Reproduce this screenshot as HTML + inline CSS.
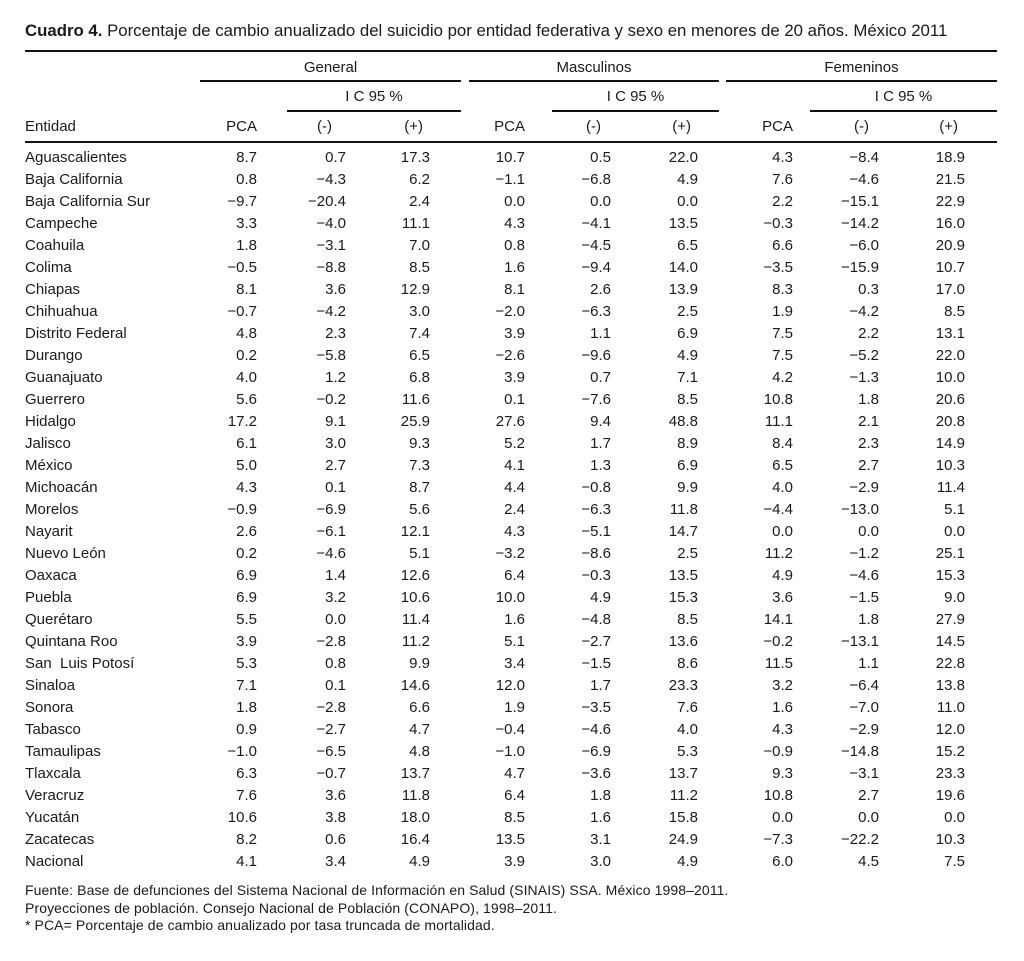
<!DOCTYPE html>
<html><head><meta charset="utf-8"><style>
body{margin:0;background:#fff;width:1024px;height:961px;position:relative;overflow:hidden;font-family:"Liberation Sans",sans-serif;color:#1a1a1a}
.t{position:absolute;left:25px;top:21px;font-size:16.8px;white-space:nowrap}
.ln{position:absolute;height:2px;background:#111}
.h{position:absolute;font-size:15px;white-space:nowrap;line-height:18px}
.r{position:absolute;left:0;width:1024px;height:22px;font-size:15px;line-height:18px}
.r span{position:absolute;white-space:nowrap}
.r span:first-child{left:25px}
.r span:nth-child(2){right:767px}
.r span:nth-child(3){right:678px}
.r span:nth-child(4){right:594px}
.r span:nth-child(5){right:499px}
.r span:nth-child(6){right:413px}
.r span:nth-child(7){right:326px}
.r span:nth-child(8){right:231px}
.r span:nth-child(9){right:145px}
.r span:nth-child(10){right:59px}
.f{position:absolute;left:25px;font-size:14px;white-space:nowrap;line-height:16px;letter-spacing:0.1px}
</style></head><body>
<div class="t"><b>Cuadro 4.</b> Porcentaje de cambio anualizado del suicidio por entidad federativa y sexo en menores de 20 años. México 2011</div>
<div class="ln" style="left:25px;width:972px;top:50px"></div>
<div class="h" style="left:200px;width:261px;text-align:center;top:59px">General</div>
<div class="h" style="left:469px;width:250px;text-align:center;top:59px">Masculinos</div>
<div class="h" style="left:726px;width:271px;text-align:center;top:59px">Femeninos</div>
<div class="ln" style="left:200px;width:261px;top:80px"></div>
<div class="ln" style="left:469px;width:250px;top:80px"></div>
<div class="ln" style="left:726px;width:271px;top:80px"></div>
<div class="h" style="left:287px;width:174px;text-align:center;top:88px">I C 95 %</div>
<div class="h" style="left:552px;width:167px;text-align:center;top:88px">I C 95 %</div>
<div class="h" style="left:810px;width:187px;text-align:center;top:88px">I C 95 %</div>
<div class="ln" style="left:287px;width:174px;top:110px"></div>
<div class="ln" style="left:552px;width:167px;top:110px"></div>
<div class="ln" style="left:810px;width:187px;top:110px"></div>
<div class="r" style="top:118px"><span>Entidad</span><span>PCA</span><span style="right:692px">(-)</span><span style="right:601px">(+)</span><span>PCA</span><span style="right:423px">(-)</span><span style="right:333px">(+)</span><span>PCA</span><span style="right:155px">(-)</span><span style="right:66px">(+)</span></div>
<div class="ln" style="left:25px;width:972px;top:141px"></div>

<div class="r" style="top:149px"><span>Aguascalientes</span><span>8.7</span><span>0.7</span><span>17.3</span><span>10.7</span><span>0.5</span><span>22.0</span><span>4.3</span><span>−8.4</span><span>18.9</span></div>
<div class="r" style="top:171px"><span>Baja California</span><span>0.8</span><span>−4.3</span><span>6.2</span><span>−1.1</span><span>−6.8</span><span>4.9</span><span>7.6</span><span>−4.6</span><span>21.5</span></div>
<div class="r" style="top:193px"><span>Baja California Sur</span><span>−9.7</span><span>−20.4</span><span>2.4</span><span>0.0</span><span>0.0</span><span>0.0</span><span>2.2</span><span>−15.1</span><span>22.9</span></div>
<div class="r" style="top:215px"><span>Campeche</span><span>3.3</span><span>−4.0</span><span>11.1</span><span>4.3</span><span>−4.1</span><span>13.5</span><span>−0.3</span><span>−14.2</span><span>16.0</span></div>
<div class="r" style="top:237px"><span>Coahuila</span><span>1.8</span><span>−3.1</span><span>7.0</span><span>0.8</span><span>−4.5</span><span>6.5</span><span>6.6</span><span>−6.0</span><span>20.9</span></div>
<div class="r" style="top:259px"><span>Colima</span><span>−0.5</span><span>−8.8</span><span>8.5</span><span>1.6</span><span>−9.4</span><span>14.0</span><span>−3.5</span><span>−15.9</span><span>10.7</span></div>
<div class="r" style="top:281px"><span>Chiapas</span><span>8.1</span><span>3.6</span><span>12.9</span><span>8.1</span><span>2.6</span><span>13.9</span><span>8.3</span><span>0.3</span><span>17.0</span></div>
<div class="r" style="top:303px"><span>Chihuahua</span><span>−0.7</span><span>−4.2</span><span>3.0</span><span>−2.0</span><span>−6.3</span><span>2.5</span><span>1.9</span><span>−4.2</span><span>8.5</span></div>
<div class="r" style="top:325px"><span>Distrito Federal</span><span>4.8</span><span>2.3</span><span>7.4</span><span>3.9</span><span>1.1</span><span>6.9</span><span>7.5</span><span>2.2</span><span>13.1</span></div>
<div class="r" style="top:347px"><span>Durango</span><span>0.2</span><span>−5.8</span><span>6.5</span><span>−2.6</span><span>−9.6</span><span>4.9</span><span>7.5</span><span>−5.2</span><span>22.0</span></div>
<div class="r" style="top:369px"><span>Guanajuato</span><span>4.0</span><span>1.2</span><span>6.8</span><span>3.9</span><span>0.7</span><span>7.1</span><span>4.2</span><span>−1.3</span><span>10.0</span></div>
<div class="r" style="top:391px"><span>Guerrero</span><span>5.6</span><span>−0.2</span><span>11.6</span><span>0.1</span><span>−7.6</span><span>8.5</span><span>10.8</span><span>1.8</span><span>20.6</span></div>
<div class="r" style="top:413px"><span>Hidalgo</span><span>17.2</span><span>9.1</span><span>25.9</span><span>27.6</span><span>9.4</span><span>48.8</span><span>11.1</span><span>2.1</span><span>20.8</span></div>
<div class="r" style="top:435px"><span>Jalisco</span><span>6.1</span><span>3.0</span><span>9.3</span><span>5.2</span><span>1.7</span><span>8.9</span><span>8.4</span><span>2.3</span><span>14.9</span></div>
<div class="r" style="top:457px"><span>México</span><span>5.0</span><span>2.7</span><span>7.3</span><span>4.1</span><span>1.3</span><span>6.9</span><span>6.5</span><span>2.7</span><span>10.3</span></div>
<div class="r" style="top:479px"><span>Michoacán</span><span>4.3</span><span>0.1</span><span>8.7</span><span>4.4</span><span>−0.8</span><span>9.9</span><span>4.0</span><span>−2.9</span><span>11.4</span></div>
<div class="r" style="top:501px"><span>Morelos</span><span>−0.9</span><span>−6.9</span><span>5.6</span><span>2.4</span><span>−6.3</span><span>11.8</span><span>−4.4</span><span>−13.0</span><span>5.1</span></div>
<div class="r" style="top:523px"><span>Nayarit</span><span>2.6</span><span>−6.1</span><span>12.1</span><span>4.3</span><span>−5.1</span><span>14.7</span><span>0.0</span><span>0.0</span><span>0.0</span></div>
<div class="r" style="top:545px"><span>Nuevo León</span><span>0.2</span><span>−4.6</span><span>5.1</span><span>−3.2</span><span>−8.6</span><span>2.5</span><span>11.2</span><span>−1.2</span><span>25.1</span></div>
<div class="r" style="top:567px"><span>Oaxaca</span><span>6.9</span><span>1.4</span><span>12.6</span><span>6.4</span><span>−0.3</span><span>13.5</span><span>4.9</span><span>−4.6</span><span>15.3</span></div>
<div class="r" style="top:589px"><span>Puebla</span><span>6.9</span><span>3.2</span><span>10.6</span><span>10.0</span><span>4.9</span><span>15.3</span><span>3.6</span><span>−1.5</span><span>9.0</span></div>
<div class="r" style="top:611px"><span>Querétaro</span><span>5.5</span><span>0.0</span><span>11.4</span><span>1.6</span><span>−4.8</span><span>8.5</span><span>14.1</span><span>1.8</span><span>27.9</span></div>
<div class="r" style="top:633px"><span>Quintana Roo</span><span>3.9</span><span>−2.8</span><span>11.2</span><span>5.1</span><span>−2.7</span><span>13.6</span><span>−0.2</span><span>−13.1</span><span>14.5</span></div>
<div class="r" style="top:655px"><span>San &nbsp;Luis Potosí</span><span>5.3</span><span>0.8</span><span>9.9</span><span>3.4</span><span>−1.5</span><span>8.6</span><span>11.5</span><span>1.1</span><span>22.8</span></div>
<div class="r" style="top:677px"><span>Sinaloa</span><span>7.1</span><span>0.1</span><span>14.6</span><span>12.0</span><span>1.7</span><span>23.3</span><span>3.2</span><span>−6.4</span><span>13.8</span></div>
<div class="r" style="top:699px"><span>Sonora</span><span>1.8</span><span>−2.8</span><span>6.6</span><span>1.9</span><span>−3.5</span><span>7.6</span><span>1.6</span><span>−7.0</span><span>11.0</span></div>
<div class="r" style="top:721px"><span>Tabasco</span><span>0.9</span><span>−2.7</span><span>4.7</span><span>−0.4</span><span>−4.6</span><span>4.0</span><span>4.3</span><span>−2.9</span><span>12.0</span></div>
<div class="r" style="top:743px"><span>Tamaulipas</span><span>−1.0</span><span>−6.5</span><span>4.8</span><span>−1.0</span><span>−6.9</span><span>5.3</span><span>−0.9</span><span>−14.8</span><span>15.2</span></div>
<div class="r" style="top:765px"><span>Tlaxcala</span><span>6.3</span><span>−0.7</span><span>13.7</span><span>4.7</span><span>−3.6</span><span>13.7</span><span>9.3</span><span>−3.1</span><span>23.3</span></div>
<div class="r" style="top:787px"><span>Veracruz</span><span>7.6</span><span>3.6</span><span>11.8</span><span>6.4</span><span>1.8</span><span>11.2</span><span>10.8</span><span>2.7</span><span>19.6</span></div>
<div class="r" style="top:809px"><span>Yucatán</span><span>10.6</span><span>3.8</span><span>18.0</span><span>8.5</span><span>1.6</span><span>15.8</span><span>0.0</span><span>0.0</span><span>0.0</span></div>
<div class="r" style="top:831px"><span>Zacatecas</span><span>8.2</span><span>0.6</span><span>16.4</span><span>13.5</span><span>3.1</span><span>24.9</span><span>−7.3</span><span>−22.2</span><span>10.3</span></div>
<div class="r" style="top:853px"><span>Nacional</span><span>4.1</span><span>3.4</span><span>4.9</span><span>3.9</span><span>3.0</span><span>4.9</span><span>6.0</span><span>4.5</span><span>7.5</span></div>

<div class="f" style="top:882px">Fuente: Base de defunciones del Sistema Nacional de Información en Salud (SINAIS) SSA. México 1998–2011.</div>
<div class="f" style="top:900px">Proyecciones de población. Consejo Nacional de Población (CONAPO), 1998–2011.</div>
<div class="f" style="top:917px">* PCA= Porcentaje de cambio anualizado por tasa truncada de mortalidad.</div>
</body></html>
